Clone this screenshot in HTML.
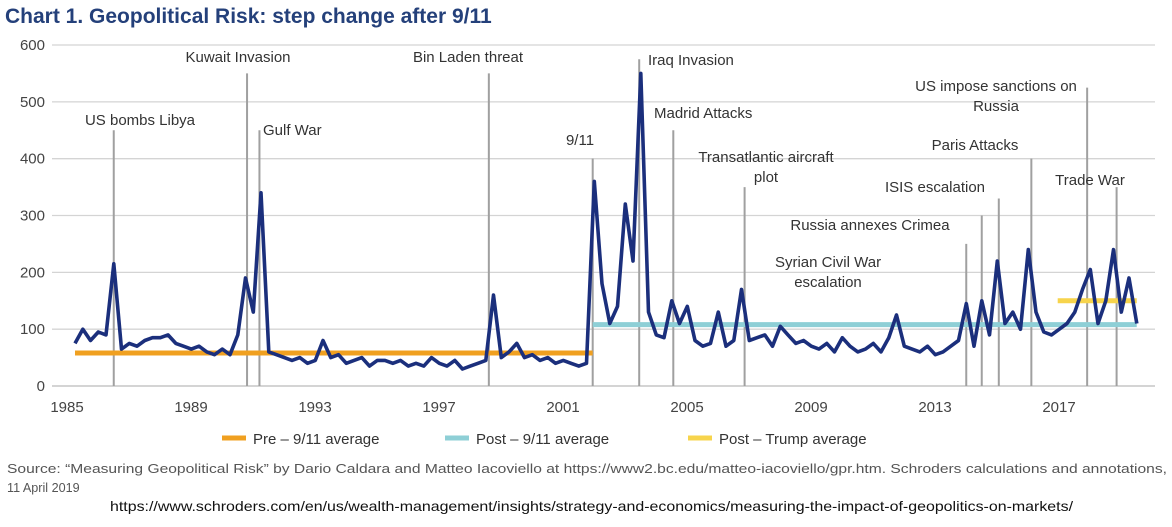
<!DOCTYPE html>
<html><head><meta charset="utf-8"><style>
body{margin:0;background:#fff;width:1172px;height:527px;overflow:hidden;font-family:"Liberation Sans",sans-serif}
svg{display:block}
</style></head><body>
<svg id="chart" width="1172" height="527" viewBox="0 0 1172 527">
<text x="5" y="23" font-size="21" font-weight="bold" fill="#24407a">Chart 1. Geopolitical Risk:  step change after 9/11</text>
<g id="grid"></g><g id="events"></g><g id="avgs"></g><g id="series"></g><g id="labels"></g>
<g>
<line x1="222" y1="438" x2="246" y2="438" stroke="#f0a020" stroke-width="5"/>
<text x="253" y="444" font-size="15" fill="#333">Pre – 9/11 average</text>
<line x1="445" y1="438" x2="469" y2="438" stroke="#8ecfd6" stroke-width="5"/>
<text x="476" y="444" font-size="15" fill="#333">Post – 9/11 average</text>
<line x1="688" y1="438" x2="712" y2="438" stroke="#f7d44c" stroke-width="5"/>
<text x="719" y="444" font-size="15" fill="#333">Post – Trump average</text>
</g>
<text x="7" y="473" font-size="12.6" fill="#555" textLength="1160" lengthAdjust="spacingAndGlyphs">Source: “Measuring Geopolitical Risk” by Dario Caldara and Matteo Iacoviello at https://www2.bc.edu/matteo-iacoviello/gpr.htm. Schroders calculations and annotations,</text>
<text x="7" y="492" font-size="12.6" fill="#555">11 April 2019</text>
<text x="110" y="511" font-size="14" fill="#111" textLength="963" lengthAdjust="spacingAndGlyphs">https://www.schroders.com/en/us/wealth-management/insights/strategy-and-economics/measuring-the-impact-of-geopolitics-on-markets/</text>
</svg>
<script>
const startYear = 1985;
const step = 0.25;
const gprValues = [75,100,80,95, 90,215,65,75, 70,80,85,85, 90,75,70,65, 70,60,55,65,
 55,90,190,130, 340,60,55,50, 45,50,40,45, 80,50,55,40, 45,50,35,45, 45,40,45,35,
 40,35,50,40, 35,45,30,35, 40,45,160,50, 60,75,50,55, 45,50,40,45, 40,35,40,360,
 180,110,140,320, 220,550,130,90, 85,150,110,140, 80,70,75,130, 70,80,170,80,
 85,90,70,105, 90,75,80,70, 65,75,60,85, 70,60,65,75, 60,85,125,70, 65,60,70,55,
 60,70,80,145, 70,150,90,220, 110,130,100,240, 130,95,90,100, 110,130,170,205,
 110,150,240,130, 190,110];
const yTicks = [0,100,200,300,400,500,600];
const xTickYears = [1985,1989,1993,1997,2001,2005,2009,2013,2017];
const avgNames = ['pre-911-average','post-911-average','post-trump-average'];
const avgValues = [58,108,150];
const avgStarts = [1985,2001.7,2016.7];
const avgEnds = [2001.7,2019.25,2019.25];
const avgColors = ['#f0a020','#8ecfd6','#f7d44c'];
const eventNames = ['US bombs Libya','Kuwait Invasion','Gulf War','Bin Laden threat','9/11','Iraq Invasion','Madrid Attacks','Transatlantic aircraft plot','Syrian Civil War escalation','Russia annexes Crimea','ISIS escalation','Paris Attacks','US impose sanctions on Russia','Trade War'];
const eventDates = [1986.25,1990.55,1990.95,1998.35,2001.7,2003.2,2004.3,2006.6,2013.75,2014.25,2014.8,2015.85,2017.65,2018.6];
const eventTops = [450,550,450,550,400,575,450,350,250,300,330,400,525,350];
const labelLines = [['US bombs Libya'],['Kuwait Invasion'],['Gulf War'],['Bin Laden threat'],['9/11'],['Iraq Invasion'],['Madrid Attacks'],['Transatlantic aircraft','plot'],['Syrian Civil War','escalation'],['Russia annexes Crimea'],['ISIS escalation'],['Paris Attacks'],['US impose sanctions on','Russia'],['Trade War']];
const labelX = [140,238,263,468,580,648,654,766,828,870,935,975,996,1090];
const labelY = [125,62,135,62,145,65,118,162,267,230,192,150,91,185];
const labelAnchor = ['middle','middle','start','middle','middle','start','start','middle','middle','middle','middle','middle','middle','middle'];

const NS='http://www.w3.org/2000/svg';
function x(t){return 75+31*(t-1985);}
function y(v){return 386-v*0.5683;}
function mk(tag,attrs,parent){const e=document.createElementNS(NS,tag);for(const k in attrs)e.setAttribute(k,attrs[k]);parent.appendChild(e);return e;}
const grid=document.getElementById('grid');
yTicks.forEach(v=>{
  const l=mk('line',{x1:52,x2:1155,y1:y(v),y2:y(v),stroke:'#d4d4d4','stroke-width':v===0?2:1.3},grid);
  
  
  const t=mk('text',{x:45,y:y(v)+5,'text-anchor':'end','font-size':15,fill:'#444'},grid);
  t.textContent=v;
  
  
});
xTickYears.forEach(yr=>{
  const t=mk('text',{x:x(yr)-8,y:412,'text-anchor':'middle','font-size':15,fill:'#444'},grid);
  t.textContent=yr;
  
  
});
const ev=document.getElementById('events');
eventDates.forEach((d,i)=>{
  const l=mk('line',{x1:x(d),x2:x(d),y1:y(eventTops[i]),y2:y(0),stroke:'#a0a0a0','stroke-width':2},ev);
  
  
});
const av=document.getElementById('avgs');
avgValues.forEach((v,i)=>{
  const l=mk('line',{x1:x(avgStarts[i]),x2:x(avgEnds[i]),y1:y(v),y2:y(v),stroke:avgColors[i],'stroke-width':5},av);
  
  
});
const pts=gprValues.map((v,i)=>x(startYear+i*step).toFixed(1)+','+y(v).toFixed(1)).join(' ');
const pl=mk('polyline',{points:pts,fill:'none',stroke:'#1b2f7c','stroke-width':3.6,'stroke-linejoin':'round'},document.getElementById('series'));


const lb=document.getElementById('labels');
labelLines.forEach((lines,i)=>{
  lines.forEach((s,j)=>{
    const t=mk('text',{x:labelX[i],y:labelY[i]+j*20,'text-anchor':labelAnchor[i],'font-size':15,fill:'#333'},lb);
    t.textContent=s;
    
    
  });
});
</script>
</body></html>
